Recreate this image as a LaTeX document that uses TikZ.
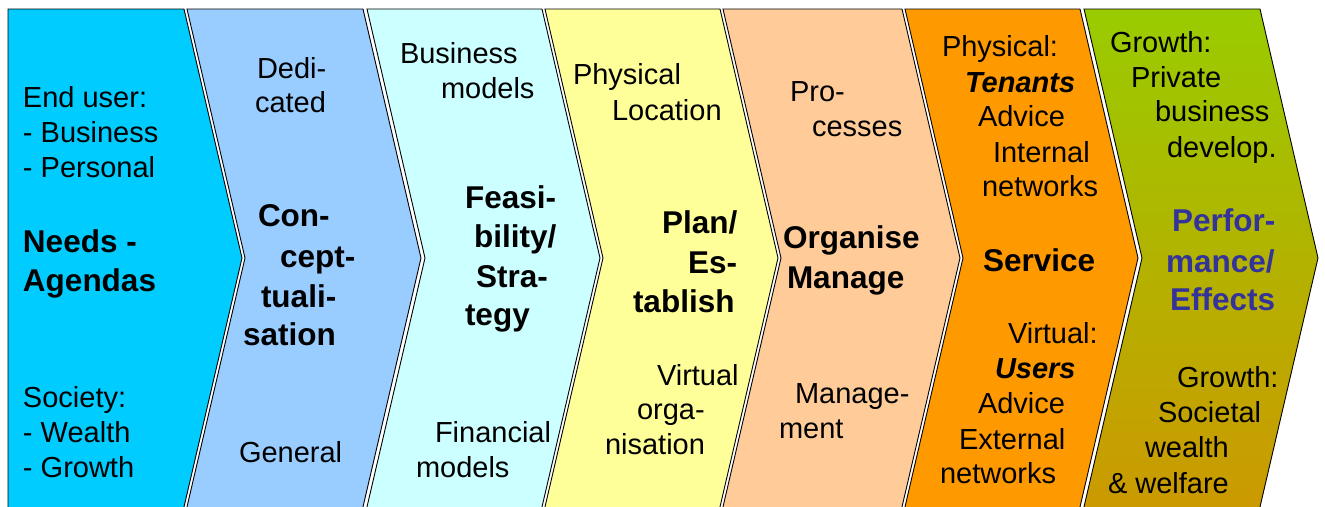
\documentclass[tikz,border=0pt]{standalone}
\usepackage{fontspec}
\setmainfont{Liberation Sans}
\definecolor{cA}{HTML}{00CCFF}
\definecolor{cB}{HTML}{99CCFF}
\definecolor{cC}{HTML}{CCFFFF}
\definecolor{cD}{HTML}{FFFF99}
\definecolor{cE}{HTML}{FFCC99}
\definecolor{cF}{HTML}{FF9900}
\definecolor{cGtop}{HTML}{99CC00}
\definecolor{cGbot}{HTML}{CC9900}
\definecolor{perf}{HTML}{333399}
\tikzset{
  lbl/.style={anchor=west, inner sep=0pt, outer sep=0pt, text height=21pt, text depth=0pt,
              font=\fontsize{29}{35}\selectfont},
  bld/.style={lbl, text height=23pt, font=\fontsize{31.5}{39}\selectfont\bfseries},
  bit/.style={lbl, font=\fontsize{29}{35}\selectfont\bfseries\itshape},
  chev/.style={draw=black, line width=0.9pt, line join=miter},
}
\begin{document}
\begin{tikzpicture}[x=1pt,y=-1pt]
\useasboundingbox (0,0) rectangle (1325,506);
\fill[white] (0,0) rectangle (1325,506);
\begin{scope}
\clip (0,0) rectangle (1325,506);
% chevron 1
\path[chev, fill=cA] (8,9) -- (184,9) -- (242,258) -- (182.8,512) -- (8,512) -- cycle;
% chevrons 2..6
\path[chev, fill=cB] (187,9) -- (363,9) -- (421,258) -- (361.8,512) -- (185.8,512) -- (245,258) -- cycle;
\path[chev, fill=cC] (367,9) -- (542,9) -- (600,258) -- (540.8,512) -- (365.8,512) -- (425,258) -- cycle;
\path[chev, fill=cD] (545,9) -- (720,9) -- (778,258) -- (718.8,512) -- (543.8,512) -- (603,258) -- cycle;
\path[chev, fill=cE] (723,9) -- (902,9) -- (960,258) -- (900.8,512) -- (721.8,512) -- (781,258) -- cycle;
\path[chev, fill=cF] (905,9) -- (1080,9) -- (1138,258) -- (1078.8,512) -- (903.8,512) -- (963,258) -- cycle;
% chevron 7 (gradient)
\shade[top color=cGtop, bottom color=cGbot] (1084,9) -- (1260,9) -- (1318,258) -- (1258.8,512) -- (1082.8,512) -- (1142,258) -- cycle;
\path[chev] (1084,9) -- (1260,9) -- (1318,258) -- (1258.8,512) -- (1082.8,512) -- (1142,258) -- cycle;
\end{scope}

% chevron 1 texts
\node[lbl] (a1) at (23,97) {End user:};
\node[lbl] (a2) at (23,132) {- Business};
\node[lbl] (a3) at (23,167) {- Personal};
\node[bld] (a4) at (23,241) {Needs -};
\node[bld] (a5) at (23,280) {Agendas};
\node[lbl] (a6) at (23,397) {Society:};
\node[lbl] (a7) at (23,432) {- Wealth};
\node[lbl] (a8) at (23,467) {- Growth};

% chevron 2 texts
\node[lbl] (b1) at (257,68) {Dedi-};
\node[lbl] (b2) at (255,102) {cated};
\node[bld] (b3) at (258,215) {Con-};
\node[bld] (b4) at (280,256) {cept-};
\node[bld] (b5) at (261,296) {tuali-};
\node[bld] (b6) at (243,334) {sation};
\node[lbl] (b7) at (239,452) {General};

% chevron 3 texts
\node[lbl] (c1) at (400,53) {Business};
\node[lbl] (c2) at (441,88) {models};
\node[bld] (c3) at (465,197) {Feasi-};
\node[bld] (c4) at (474,236) {bility/};
\node[bld] (c5) at (476,276) {Stra-};
\node[bld] (c6) at (465,314) {tegy};
\node[lbl] (c7) at (435,432) {Financial};
\node[lbl] (c8) at (416,467) {models};

% chevron 4 texts
\node[lbl] (d1) at (573,74) {Physical};
\node[lbl] (d2) at (612,110) {Location};
\node[bld] (d3) at (662,222) {Plan/};
\node[bld] (d4) at (688,262) {Es-};
\node[bld] (d5) at (633,301) {tablish};
\node[lbl] (d6) at (657,375) {Virtual};
\node[lbl] (d7) at (637,409) {orga-};
\node[lbl] (d8) at (605,444) {nisation};

% chevron 5 texts
\node[lbl] (e1) at (790,91) {Pro-};
\node[lbl] (e2) at (812,126) {cesses};
\node[bld] (e3) at (783,237) {Organise};
\node[bld] (e4) at (787,277) {Manage};
\node[lbl] (e5) at (795,393) {Manage-};
\node[lbl] (e6) at (779,428) {ment};

% chevron 6 texts
\node[lbl] (f1) at (942,46) {Physical:};
\node[bit] (f2) at (965,82) {Tenants};
\node[lbl] (f3) at (978,116) {Advice};
\node[lbl] (f4) at (993,152) {Internal};
\node[lbl] (f5) at (982,186) {networks};
\node[bld] (f6) at (983,260) {Service};
\node[lbl] (f7) at (1008,333) {Virtual:};
\node[bit] (f8) at (995,368) {Users};
\node[lbl] (f9) at (978,403) {Advice};
\node[lbl] (f10) at (959,439) {External};
\node[lbl] (f11) at (940,473) {networks};

% chevron 7 texts
\node[lbl] (g1) at (1110,42) {Growth:};
\node[lbl] (g2) at (1131,77) {Private};
\node[lbl] (g3) at (1155,111) {business};
\node[lbl] (g4) at (1167,147) {develop.};
\node[bld, text=perf] (g5) at (1172,220) {Perfor-};
\node[bld, text=perf] (g6) at (1166,261) {mance/};
\node[bld, text=perf] (g7) at (1170,299) {Effects};
\node[lbl] (g8) at (1177,377) {Growth:};
\node[lbl] (g9) at (1158,412) {Societal};
\node[lbl] (g10) at (1145,447) {wealth};
\node[lbl] (g11) at (1108,483) {\& welfare};
\end{tikzpicture}
\end{document}
